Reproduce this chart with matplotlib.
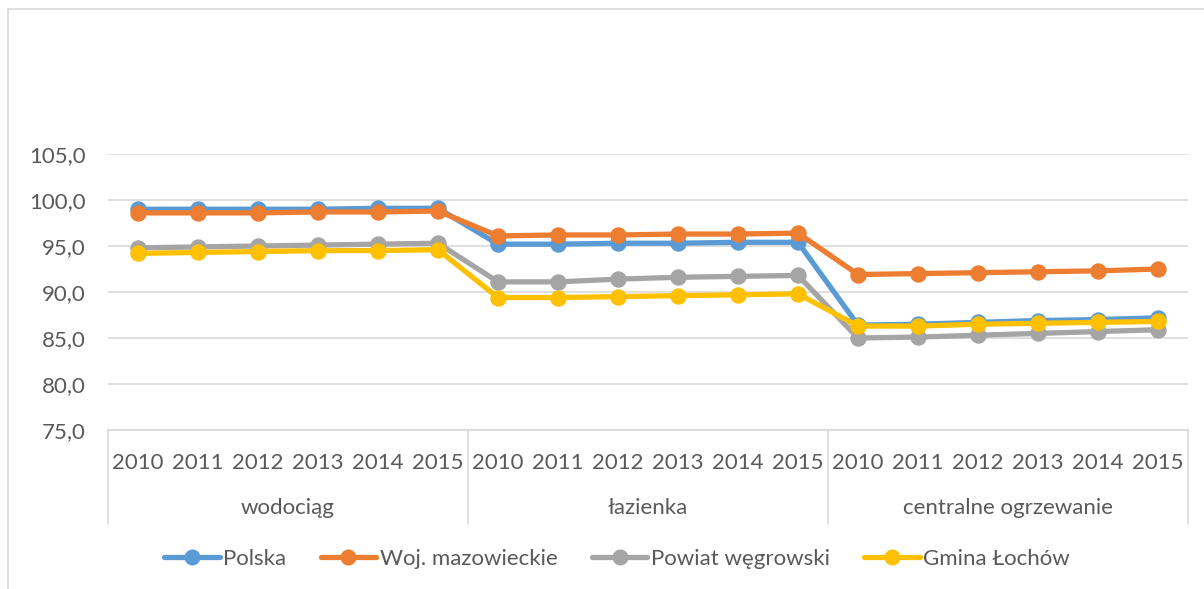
import matplotlib
matplotlib.use("Agg")
import matplotlib.pyplot as plt
from matplotlib.patches import Rectangle
from matplotlib.lines import Line2D

plt.rcParams['font.family'] = ['Lato', 'DejaVu Sans']

years = ['2010', '2011', '2012', '2013', '2014', '2015']
groups = ['wodociąg', 'łazienka', 'centralne ogrzewanie']
series_names = ['Polska', 'Woj. mazowieckie', 'Powiat węgrowski', 'Gmina Łochów']
colors = ['#5B9BD5', '#ED7D31', '#A5A5A5', '#FFC000']

polska = [99.0, 99.0, 99.0, 99.0, 99.1, 99.1,
          95.2, 95.2, 95.3, 95.3, 95.4, 95.4,
          86.4, 86.5, 86.7, 86.9, 87.0, 87.2]
woj = [98.6, 98.6, 98.6, 98.7, 98.7, 98.8,
       96.1, 96.2, 96.2, 96.3, 96.3, 96.4,
       91.9, 92.0, 92.1, 92.2, 92.3, 92.5]
powiat = [94.8, 94.9, 95.0, 95.1, 95.2, 95.3,
          91.1, 91.1, 91.4, 91.6, 91.7, 91.8,
          85.0, 85.1, 85.3, 85.5, 85.7, 85.9]
gmina = [94.2, 94.3, 94.4, 94.5, 94.5, 94.6,
         89.4, 89.4, 89.5, 89.6, 89.7, 89.8,
         86.3, 86.3, 86.5, 86.6, 86.7, 86.8]
yticks = [75, 80, 85, 90, 95, 100, 105]

series = [polska, woj, powiat, gmina]

W, H = 1204, 589
FS = 16
fig = plt.figure(figsize=(W / 100, H / 100), dpi=100)
fig.patch.set_facecolor('white')

# chart border
fig.patches.append(Rectangle((8 / W, -0.1), 1.2, 1 - 9 / H + 0.1, transform=fig.transFigure,
                             fill=False, edgecolor='#D9D9D9', linewidth=1.2))

left, right, top, bottom = 108, 1188, 154, 430
ax = fig.add_axes([left / W, 1 - bottom / H, (right - left) / W, (bottom - top) / H])

x = list(range(len(years) * len(groups)))
for vals, name, c in zip(series, series_names, colors):
    ax.plot(x, vals, color=c, linewidth=3.8, marker='o', markersize=10.8,
            label=name, solid_capstyle='round', zorder=3)

ax.set_xlim(-0.5, len(x) - 0.5)
ax.set_ylim(75, 105)
ax.set_yticks(yticks)
ax.set_yticklabels([f"{v:.1f}".replace('.', ',') for v in yticks])
ax.yaxis.grid(True, color='#D9D9D9', linewidth=1.2, zorder=0)
ax.set_axisbelow(True)
for s in ['top', 'right', 'left']:
    ax.spines[s].set_visible(False)
ax.spines['bottom'].set_color('#D9D9D9')
ax.spines['bottom'].set_linewidth(1.2)
ax.tick_params(axis='y', length=0, pad=16, labelsize=FS, labelcolor='#595959')
ax.set_xticks(x)
ax.set_xticklabels(years * len(groups))
ax.tick_params(axis='x', length=0, pad=16.5, labelsize=FS, labelcolor='#595959')

ph = bottom - top
sep_y = -(523 - bottom) / ph
for b in [-0.5, 5.5, 11.5, 17.5]:
    ax.add_line(Line2D([b, b], [0, sep_y], transform=ax.get_xaxis_transform(),
                       color='#D9D9D9', linewidth=1.2, clip_on=False))
for i, g in enumerate(groups):
    ax.text(i * 6 + 2.5, -(508 - bottom) / ph, g, transform=ax.get_xaxis_transform(),
            ha='center', va='center', fontsize=FS, color='#595959')

leg = fig.legend(loc='center', bbox_to_anchor=(617 / W, 1 - 559 / H), ncol=4,
                 frameon=False, fontsize=FS, handlelength=2.5, handletextpad=0.15,
                 columnspacing=1.55, labelcolor='#595959')
for h in leg.legend_handles:
    h.set_markersize(10.5)

fig.savefig('out.png', dpi=100, facecolor='white')
